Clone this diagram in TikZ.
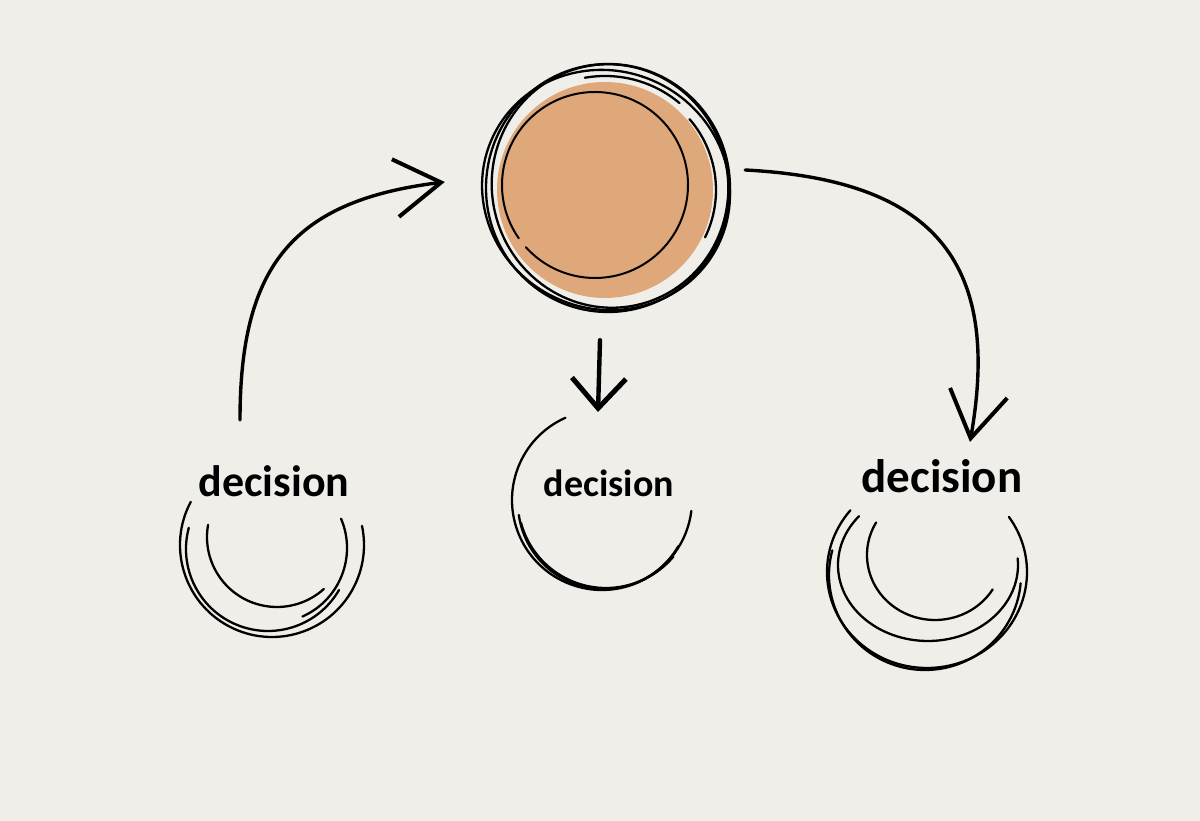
\documentclass[tikz,border=0pt]{standalone}
\usepackage{fontspec}
\setmainfont{Carlito}
\usepackage{tikz}
\usetikzlibrary{arrows.meta, positioning, calc}
\usepackage{xcolor}
\definecolor{paper}{HTML}{F0EEE8}
\definecolor{clay}{HTML}{DEA87B}

\tikzset{
  ink/.style={draw=black, line width=2.3pt, line cap=round},
  flow/.style={draw=black, line width=3.4pt, line cap=round,
    -{Straight Barb[length=46pt, width=58pt, line width=4pt]}},
  choice/.style={font=\fontsize{44}{50}\selectfont\bfseries, inner sep=2pt, anchor=base},
  hub/.style={circle, fill=clay, minimum size=216pt, inner sep=0pt}
}

\begin{document}
\begin{tikzpicture}[x=1pt, y=1pt]
    \useasboundingbox (0,0) rectangle (1200,821);
    \fill[paper] (0,0) rectangle (1200,821);

    % central circle
    \node[hub] (hub) at (605,631) {};
    \draw[ink] (608,633) ellipse[x radius=122, y radius=124];
    \draw[ink, rotate around={15:(610,635)}] (610,635) ellipse[x radius=118, y radius=122];
    \draw[ink, rotate around={-25:(606,631)}] (606,631) ellipse[x radius=125, y radius=119];
    \draw[ink] ($(608,631)+(-26:108)$) arc[start angle=-26, end angle=41, radius=108];
    \draw[ink] ($(605,629)+(50:116)$) arc[start angle=50, end angle=100, radius=116];
    \draw[ink, line width=2pt] ($(595,636)+(222:93)$) arc[start angle=222, end angle=575, radius=93];

    % decisions
    \node[choice] (dleft) at (274,324) {decision};
    \node[choice, font=\fontsize{38}{44}\selectfont\bfseries] (dmid) at (609,324) {decision};
    \node[choice, font=\fontsize{47}{53}\selectfont\bfseries] (dright) at (942,328) {decision};

    % rings under the decisions
    \draw[ink] ($(272,276)+(152:92)$) arc[start angle=152, end angle=372, radius=92];
    \draw[ink] ($(268,272)+(165:82)$) arc[start angle=165, end angle=330, radius=82];
    \draw[ink] ($(277,284)+(170:70)$) arc[start angle=170, end angle=312, radius=70];
    \draw[ink] ($(272,273)+(-66:75)$) arc[start angle=-66, end angle=23, radius=75];

    \draw[ink] ($(602,321)+(114:90)$) arc[start angle=114, end angle=353, radius=90];
    \draw[ink] ($(604,318)+(188:86)$) arc[start angle=188, end angle=330, radius=86];
    \draw[ink] ($(606,321)+(195:88)$) arc[start angle=195, end angle=320, radius=88];

    \draw[ink] ($(927,249)+(140:100 and 96)$) arc[start angle=140, end angle=395, x radius=100, y radius=96];
    \draw[ink] ($(928,256)+(140:90 and 76)$) arc[start angle=140, end angle=365, x radius=90, y radius=76];
    \draw[ink] ($(935,266)+(150:68 and 65)$) arc[start angle=150, end angle=328, x radius=68, y radius=65];
    \draw[ink] ($(925,246)+(165:96 and 95)$) arc[start angle=165, end angle=355, x radius=96, y radius=95];

    % arrows
    \draw[flow] ([xshift=-34pt, yshift=77pt]dleft.base) to[out=90, in=187, looseness=1.25] ([xshift=-52pt, yshift=8pt]hub.west);
    \draw[flow] ([xshift=32pt, yshift=20pt]hub.east) to[out=-3, in=80, looseness=1.35] ([xshift=28pt, yshift=51pt]dright.base);
    \draw[flow, line width=4.4pt, -{Straight Barb[length=30pt, width=54pt, line width=5pt]}] ([xshift=-5pt, yshift=-42pt]hub.south) -- ([xshift=-11pt, yshift=85pt]dmid.base);
\end{tikzpicture}
\end{document}
